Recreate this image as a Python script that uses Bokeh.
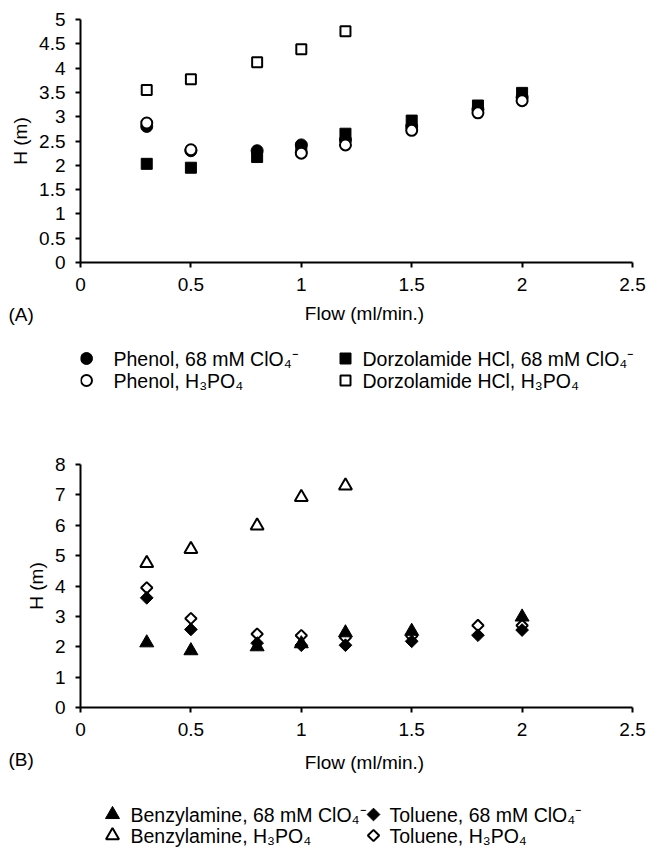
from bokeh.plotting import figure
from bokeh.layouts import column
from bokeh.models import Range1d, FixedTicker, CustomJSTickFormatter, Title
from bokeh.core.properties import value
from bokeh.embed import file_html
from bokeh.resources import INLINE
import math

FONT = "Liberation Sans"

# ---------------- data ----------------
x_ticks = [0, 0.5, 1, 1.5, 2, 2.5]
yA_ticks = [0, 0.5, 1, 1.5, 2, 2.5, 3, 3.5, 4, 4.5, 5]
yB_ticks = [0, 1, 2, 3, 4, 5, 6, 7, 8]

flow = [0.3, 0.5, 0.8, 1.0, 1.2, 1.5, 1.8, 2.0]
flow_short = [0.3, 0.5, 0.8, 1.0, 1.2]
NA = float("nan")  # point not visible in the source figure

# Panel A
phenol_clo4 = [2.80, 2.30, 2.30, 2.42, 2.52, 2.80, 3.15, 3.40]
phenol_h3po4 = [2.87, 2.32, NA, 2.25, 2.42, 2.72, 3.08, 3.33]
dorz_clo4 = [2.03, 1.95, 2.17, 2.35, 2.65, 2.92, 3.23, 3.49]
dorz_h3po4 = [3.55, 3.77, 4.12, 4.39, 4.76]

# Panel B
benz_clo4 = [2.13, 1.87, 2.00, 2.10, 2.46, 2.51, NA, 2.98]
benz_h3po4 = [4.75, 5.21, 5.98, 6.92, 7.30]
tol_clo4 = [3.61, 2.57, 2.12, 2.05, 2.05, 2.18, 2.38, 2.55]
tol_h3po4 = [3.94, 2.93, 2.42, 2.37, 2.30, 2.35, 2.70, 2.70]

legendA_labels = ["Phenol, 68 mM ClO\u2084\u207b", "Phenol, H\u2083PO\u2084",
                  "Dorzolamide HCl, 68 mM ClO\u2084\u207b", "Dorzolamide HCl, H\u2083PO\u2084"]
legendB_labels = ["Benzylamine, 68 mM ClO\u2084\u207b", "Benzylamine, H\u2083PO\u2084",
                  "Toluene, 68 mM ClO\u2084\u207b", "Toluene, H\u2083PO\u2084"]

x_label = "Flow (ml/min.)"
y_label = "H (m)"

# ---------------- styles ----------------
DIAMOND = math.pi / 4
styleA = [
    dict(marker="circle", size=12, fill_color="black", line_color="black", line_width=1, angle=0),
    dict(marker="circle", size=11, fill_color="white", line_color="black", line_width=2, angle=0),
    dict(marker="square", size=11, fill_color="black", line_color="black", line_width=1, angle=0),
    dict(marker="square", size=10, fill_color="white", line_color="black", line_width=2, angle=0),
]
styleB = [
    dict(marker="triangle", size=14, fill_color="black", line_color="black", line_width=1, angle=0),
    dict(marker="triangle", size=13, fill_color="white", line_color="black", line_width=2, angle=0),
    dict(marker="square", size=9, fill_color="black", line_color="black", line_width=1, angle=DIAMOND),
    dict(marker="square", size=8, fill_color="white", line_color="black", line_width=2, angle=DIAMOND),
]

tick_fmt = CustomJSTickFormatter(code="return tick.toString();")

W = 648
LEFT = 80          # y-axis position on the page
FRAME_W = 552      # width of the 0..2.5 span
X_END = 2.5 * (W - LEFT) / FRAME_W   # frame reaches the right edge; axis line bounded to 0..2.5


def make_panel(ymax, yticks, top_border, bottom_border, tag, xlab_standoff, tag_standoff):
    p = figure(width=W, height=top_border + 243 + bottom_border,
               x_range=Range1d(0, X_END), y_range=Range1d(0, ymax),
               output_backend="svg", toolbar_location=None,
               min_border_left=LEFT, min_border_right=0,
               min_border_top=top_border, min_border_bottom=bottom_border)
    p.outline_line_color = None
    p.grid.visible = False
    p.background_fill_color = "white"
    p.border_fill_color = "white"
    p.xaxis.ticker = FixedTicker(ticks=x_ticks)
    p.yaxis.ticker = FixedTicker(ticks=yticks)
    p.xaxis.bounds = (0, 2.5)
    for ax in (p.xaxis[0], p.yaxis[0]):
        ax.formatter = tick_fmt
        ax.axis_line_width = 2
        ax.axis_line_color = "black"
        ax.major_tick_line_width = 2
        ax.major_tick_line_color = "black"
        ax.major_tick_in = 0
        ax.major_tick_out = 5
        ax.minor_tick_line_color = None
        ax.major_label_text_font = FONT
        ax.major_label_text_font_size = "19px"
        ax.major_label_text_color = "black"
        ax.axis_label_text_font = FONT
        ax.axis_label_text_font_size = "19px"
        ax.axis_label_text_font_style = "normal"
        ax.axis_label_text_color = "black"
    p.xaxis.major_label_standoff = 10
    p.yaxis.major_label_standoff = 10
    p.xaxis.axis_label = x_label
    p.yaxis.axis_label = y_label
    p.xaxis.axis_label_standoff = xlab_standoff
    p.yaxis.axis_label_standoff = 5
    p.add_layout(Title(text=tag, align="left", offset=-72, standoff=tag_standoff,
                       vertical_align="top", text_font=FONT, text_font_size="19px",
                       text_font_style="normal", text_color="black"), "below")
    return p


def add_series(p, xs, ys, st):
    p.scatter(xs, ys, marker=st["marker"], size=st["size"], fill_color=st["fill_color"],
              line_color=st["line_color"], line_width=st["line_width"], angle=st["angle"])


def make_legend(page_top, page_bottom, labels, styles, cols_marker, cols_text, rows_y):
    h = page_bottom - page_top
    lg = figure(width=W, height=h, x_range=Range1d(LEFT, W),
                y_range=Range1d(page_bottom, page_top),
                output_backend="svg", toolbar_location=None,
                x_axis_type=None, y_axis_type=None,
                min_border_left=LEFT, min_border_right=0,
                min_border_top=0, min_border_bottom=0)
    lg.outline_line_color = None
    lg.grid.visible = False
    for i, (lab, st) in enumerate(zip(labels, styles)):
        c, r = i // 2, i % 2
        lg.scatter([cols_marker[c]], [rows_y[r]], marker=st["marker"], size=st["size"],
                   fill_color=st["fill_color"], line_color=st["line_color"],
                   line_width=st["line_width"], angle=st["angle"])
        lg.text([cols_text[c]], [rows_y[r]], text=[lab], text_font=value(FONT),
                text_font_size="19.5px", text_baseline="middle", text_align="left",
                text_color="black")
    return lg


# Panel A  (page y 0..330)
pA = make_panel(5, yA_ticks, 19, 68, "(A)", 9, -46)
add_series(pA, flow_short, dorz_h3po4, styleA[3])
add_series(pA, flow, phenol_clo4, styleA[0])
add_series(pA, flow, dorz_clo4, styleA[2])
add_series(pA, flow, phenol_h3po4, styleA[1])

legA = make_legend(330, 400, legendA_labels, styleA, [86, 345], [113, 362], [358, 380])

# Panel B  (page y 400..790)
pB = make_panel(8, yB_ticks, 64, 83, "(B)", 13, -54)
add_series(pB, flow_short, benz_h3po4, styleB[1])
add_series(pB, flow, tol_h3po4, styleB[3])
add_series(pB, flow, benz_clo4, styleB[0])
add_series(pB, flow, tol_clo4, styleB[2])

legB = make_legend(790, 851, legendB_labels, styleB, [112, 373], [130, 389], [814, 835])

layout = column(pA, legA, pB, legB, spacing=0)
open("out.html", "w").write(file_html(layout, INLINE))
